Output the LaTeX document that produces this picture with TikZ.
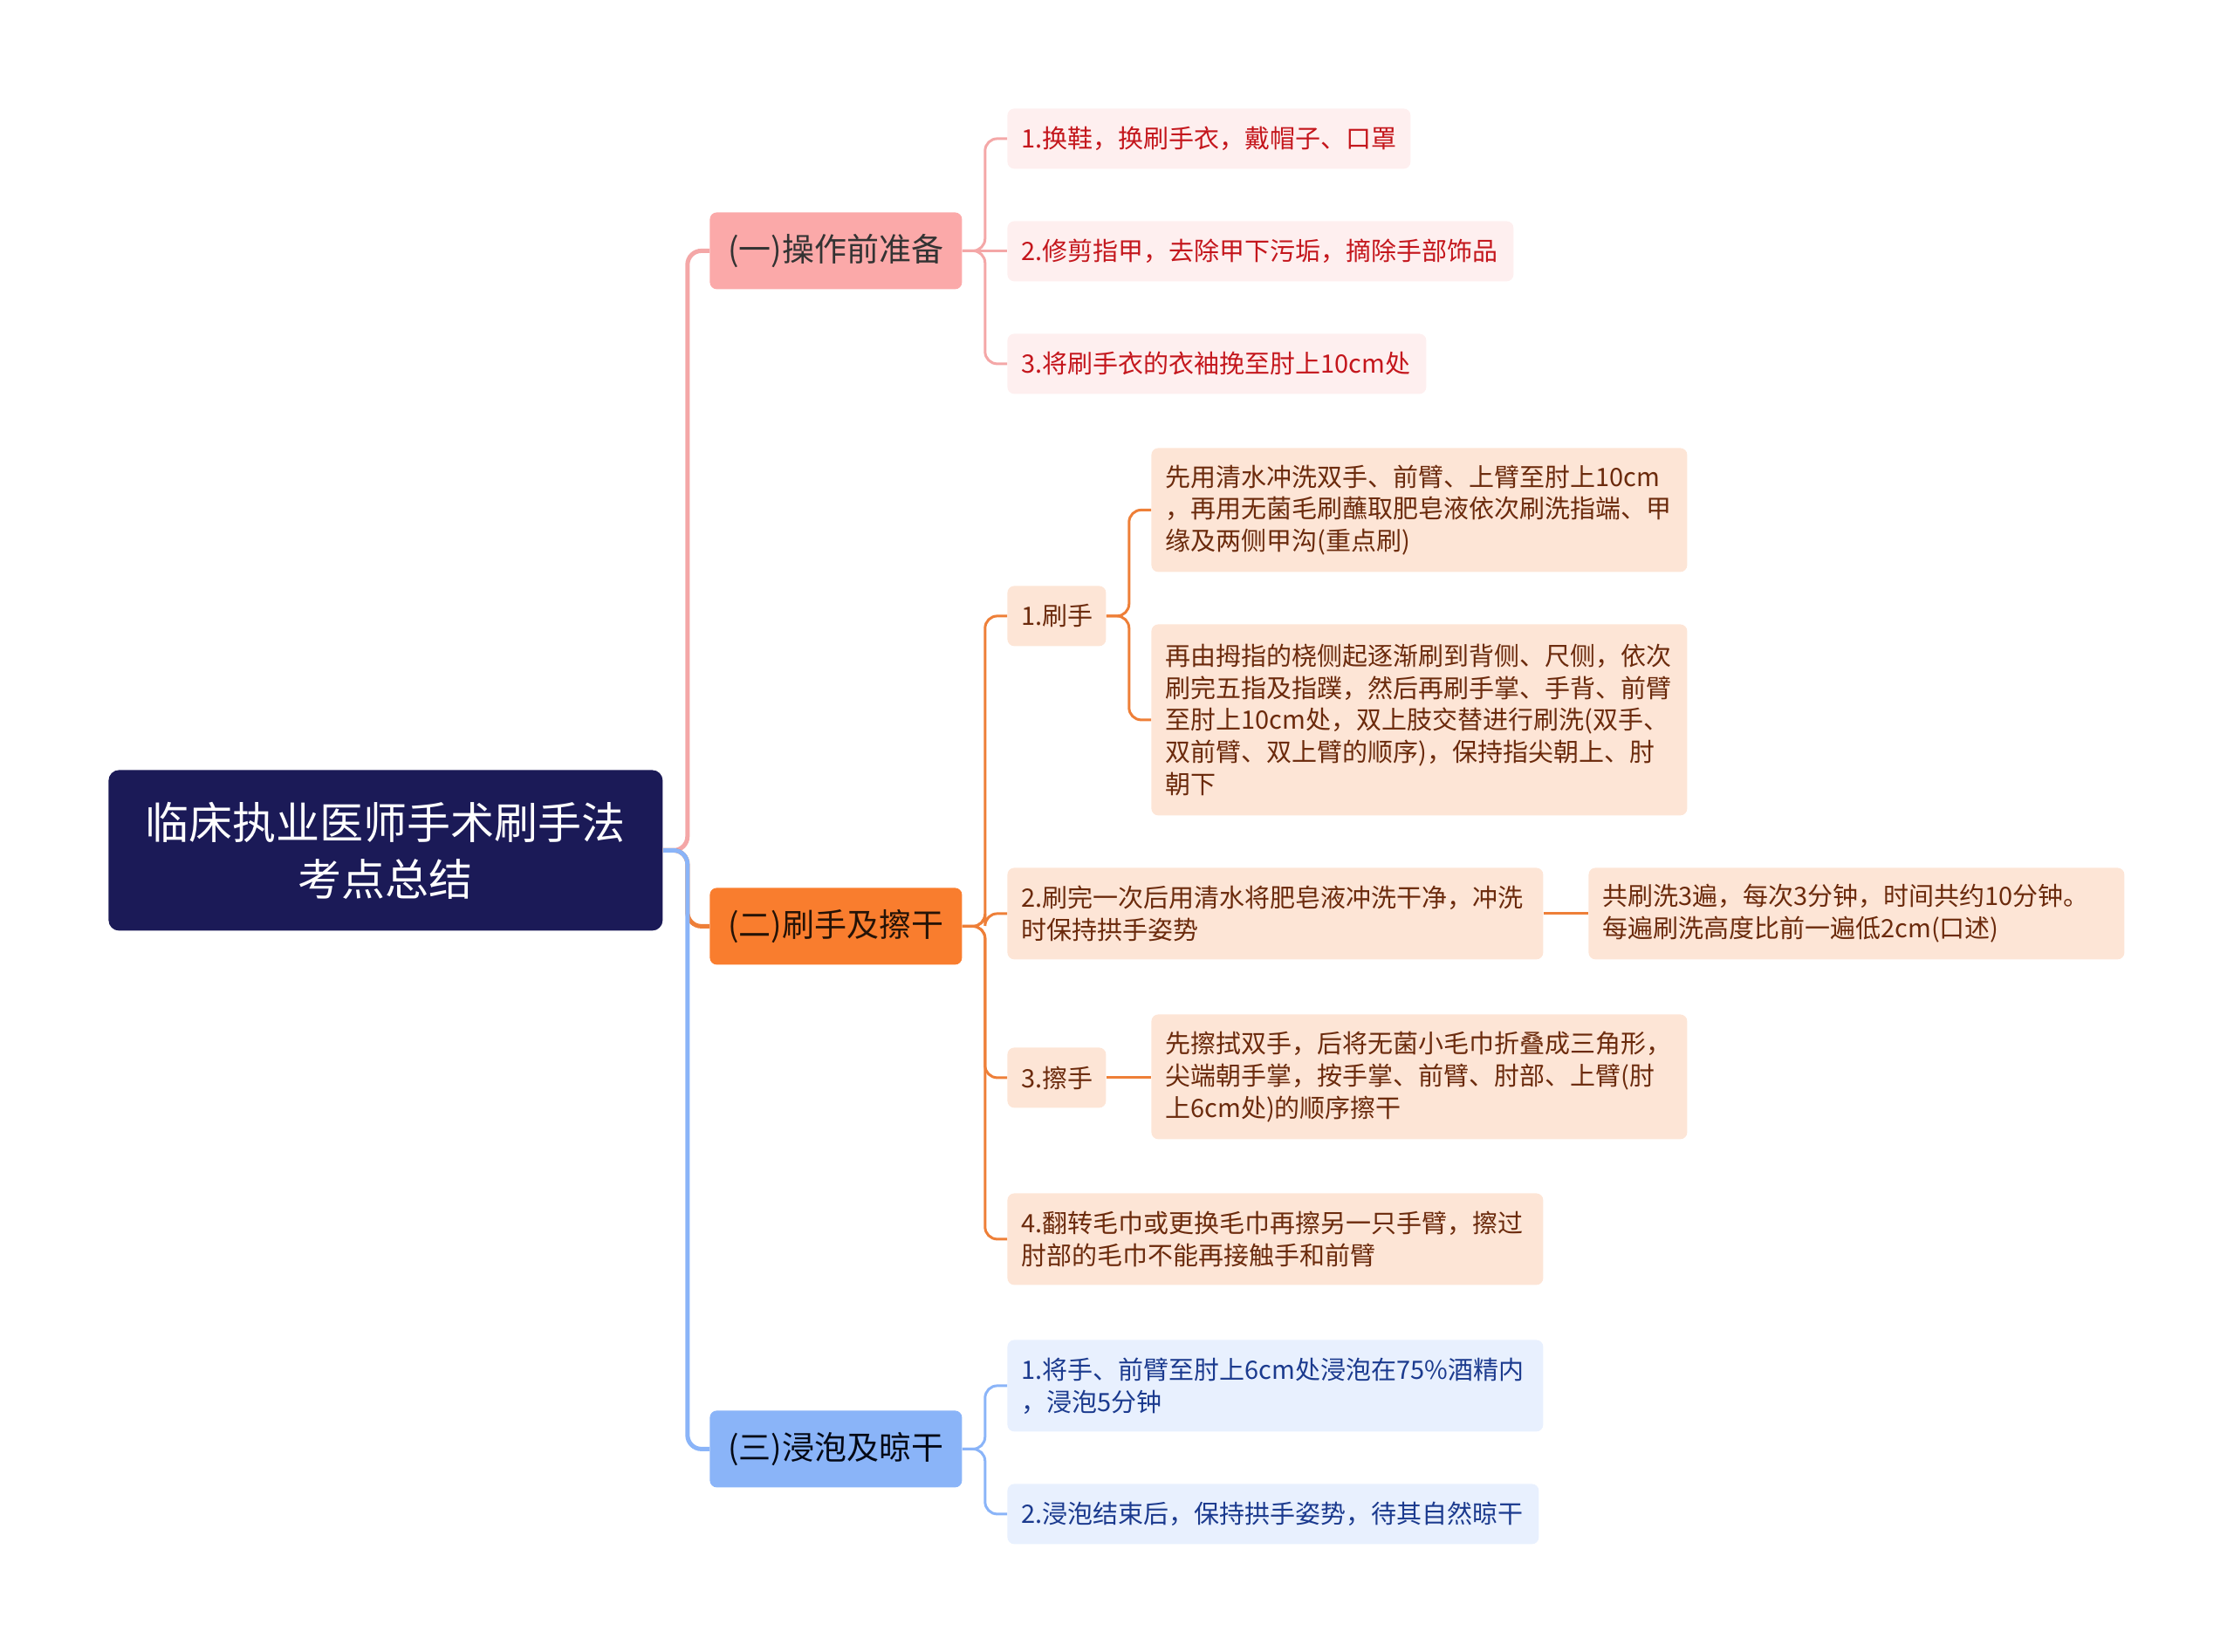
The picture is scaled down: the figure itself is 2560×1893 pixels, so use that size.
\documentclass[tikz,border=0pt]{standalone}
\usepackage{fontspec}
\setmainfont{Noto Sans CJK SC}
\usepackage{tikz}
\definecolor{rootfill}{HTML}{1B1A57}
\definecolor{pinkmain}{HTML}{FBA9A9}
\definecolor{pinkline}{HTML}{F4A7A7}
\definecolor{pinkleaf}{HTML}{FEEFEF}
\definecolor{pinktext}{HTML}{C4161C}
\definecolor{orangemain}{HTML}{F97D2E}
\definecolor{orangeline}{HTML}{EE7F38}
\definecolor{orangeleaf}{HTML}{FDE5D6}
\definecolor{orangetext}{HTML}{6B2A0C}
\definecolor{bluemain}{HTML}{8AB4F8}
\definecolor{blueleaf}{HTML}{E8F0FE}
\definecolor{bluetext}{HTML}{1B3A8E}

\begin{document}
\begin{tikzpicture}[x=0.5pt,y=-0.5pt,
  topic/.style={anchor=north west,rounded corners=6pt,fill=rootfill,text=white,align=center,
    minimum width=317.5pt,minimum height=92pt,font=\fontsize{25}{32.5}\selectfont},
  branch/.style={anchor=north west,rounded corners=4pt,minimum width=144.5pt,minimum height=44pt,
    font=\fontsize{18.5}{22}\selectfont},
  leaf/.style={anchor=north west,rounded corners=4pt,inner xsep=8pt,inner ysep=0pt,align=left,
    font=\fontsize{14.5}{18.4}\selectfont},
  trunk/.style={line width=2.5pt,rounded corners=8pt},
  twig/.style={line width=1.5pt,rounded corners=7pt}]
\useasboundingbox (0,0) rectangle (2560,1893);

\node[topic] (root) at (124,882) {临床执业医师手术刷手法\\考点总结};

\node[branch,fill=pinkmain,text=black!80] (b1) at (813,243) {(一)操作前准备};
\node[branch,fill=orangemain,text=black!85!orangemain] (b2) at (813,1017) {(二)刷手及擦干};
\node[branch,fill=bluemain,text=black!85!bluetext] (b3) at (813,1616) {(三)浸泡及晾干};

\node[leaf,fill=pinkleaf,text=pinktext,text width=215pt,minimum height=34.5pt] (p1) at (1154,124) {1.换鞋，换刷手衣，戴帽子、口罩};
\node[leaf,fill=pinkleaf,text=pinktext,text width=274pt,minimum height=34.5pt] (p2) at (1154,253) {2.修剪指甲，去除甲下污垢，摘除手部饰品};
\node[leaf,fill=pinkleaf,text=pinktext,text width=224pt,minimum height=34.5pt] (p3) at (1154,382) {3.将刷手衣的衣袖挽至肘上10cm处};

\node[leaf,fill=orangeleaf,text=orangetext,text width=40.5pt,minimum height=34.5pt] (s1) at (1154,671) {1.刷手};
\node[leaf,fill=orangeleaf,text=orangetext,text width=291pt,minimum height=71pt] (s1a) at (1319,513) {先用清水冲洗双手、前臂、上臂至肘上10cm\\，再用无菌毛刷蘸取肥皂液依次刷洗指端、甲\\缘及两侧甲沟(重点刷)};
\node[leaf,fill=orangeleaf,text=orangetext,text width=291pt,minimum height=109.5pt] (s1b) at (1319,715) {再由拇指的桡侧起逐渐刷到背侧、尺侧，依次\\刷完五指及指蹼，然后再刷手掌、手背、前臂\\至肘上10cm处，双上肢交替进行刷洗(双手、\\双前臂、双上臂的顺序)，保持指尖朝上、肘\\朝下};
\node[leaf,fill=orangeleaf,text=orangetext,text width=291pt,minimum height=52.5pt] (s2) at (1154,994) {2.刷完一次后用清水将肥皂液冲洗干净，冲洗\\时保持拱手姿势};
\node[leaf,fill=orangeleaf,text=orangetext,text width=291pt,minimum height=52.5pt] (s2a) at (1820,994) {共刷洗3遍，每次3分钟，时间共约10分钟。\\每遍刷洗高度比前一遍低2cm(口述)};
\node[leaf,fill=orangeleaf,text=orangetext,text width=40.5pt,minimum height=34.5pt] (s3) at (1154,1200) {3.擦手};
\node[leaf,fill=orangeleaf,text=orangetext,text width=291pt,minimum height=71.5pt] (s3a) at (1319,1162) {先擦拭双手，后将无菌小毛巾折叠成三角形，\\尖端朝手掌，按手掌、前臂、肘部、上臂(肘\\上6cm处)的顺序擦干};
\node[leaf,fill=orangeleaf,text=orangetext,text width=291pt,minimum height=52.5pt] (s4) at (1154,1367) {4.翻转毛巾或更换毛巾再擦另一只手臂，擦过\\肘部的毛巾不能再接触手和前臂};

\node[leaf,fill=blueleaf,text=bluetext,text width=291pt,minimum height=52.5pt] (t1) at (1154,1535) {1.将手、前臂至肘上6cm处浸泡在75\%酒精内\\，浸泡5分钟};
\node[leaf,fill=blueleaf,text=bluetext,text width=288.5pt,minimum height=34.5pt] (t2) at (1154,1700) {2.浸泡结束后，保持拱手姿势，待其自然晾干};

\draw[trunk,pinkline] (root.east) -- ++(28,0) |- (b1.west);
\draw[trunk,orangeline] (root.east) -- ++(28,0) |- (b2.west);
\draw[trunk,bluemain] (root.east) -- ++(28,0) |- (b3.west);

\foreach \n in {p1,p3}
  \draw[twig,pinkline] (b1.east) -- ++(26,0) |- (\n.west);
\draw[twig,pinkline] (b1.east) -- (b1.east -| p2.west);
\foreach \n in {s1,s2,s3,s4}
  \draw[twig,orangeline] (b2.east) -- ++(26,0) |- (\n.west);
\foreach \n in {s1a,s1b}
  \draw[twig,orangeline] (s1.east) -- ++(26,0) |- (\n.west);
\draw[twig,orangeline] (s2.east) -- (s2a.west);
\draw[twig,orangeline] (s3.east) -- (s3.east -| s3a.west);
\foreach \n in {t1,t2}
  \draw[twig,bluemain] (b3.east) -- ++(26,0) |- (\n.west);
\end{tikzpicture}
\end{document}
